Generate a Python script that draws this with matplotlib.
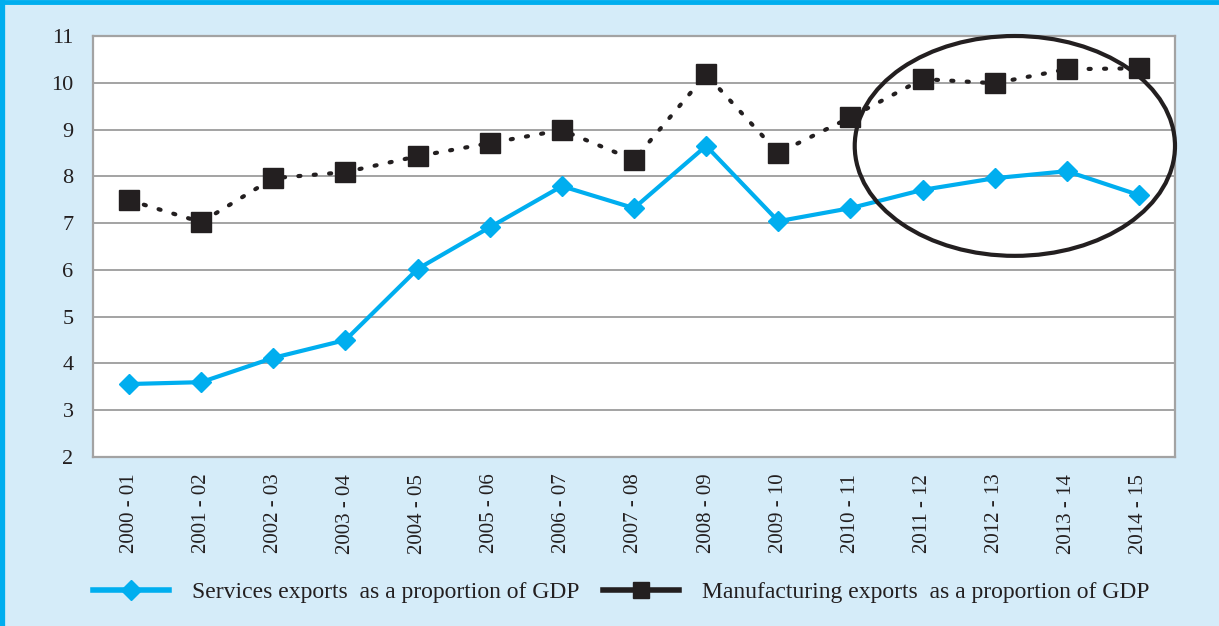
import numpy as np
import matplotlib.pyplot as plt
from matplotlib.patches import Ellipse
from matplotlib.lines import Line2D

# Data
years = ["2000 - 01", "2001 - 02", "2002 - 03", "2003 - 04", "2004 - 05",
         "2005 - 06", "2006 - 07", "2007 - 08", "2008 - 09", "2009 - 10",
         "2010 - 11", "2011 - 12", "2012 - 13", "2013 - 14", "2014 - 15"]
services = [3.56, 3.60, 4.12, 4.50, 6.02, 6.91, 7.79, 7.32, 8.65, 7.04,
            7.32, 7.71, 7.96, 8.11, 7.60]
manufacturing = [7.49, 7.02, 7.96, 8.09, 8.43, 8.71, 8.99, 8.35, 10.18, 8.50,
                 9.26, 10.08, 9.99, 10.29, 10.31]
y_ticks = [2, 3, 4, 5, 6, 7, 8, 9, 10, 11]

bg = "#d5ecf9"
cyan = "#00aeef"
dark = "#231f20"
grey = "#a3a3a3"

plt.rcParams['font.family'] = ['Liberation Serif', 'DejaVu Serif']

fig = plt.figure(figsize=(12.19, 6.26), dpi=100, facecolor=bg)
ax = fig.add_axes([93 / 1219, 1 - 457 / 626, (1175 - 93) / 1219, (457 - 36) / 626])
ax.set_facecolor("white")

x = np.arange(len(years))

# figure border (top and left)
fig.add_artist(Line2D([0, 1], [1 - 2 / 626, 1 - 2 / 626], color=cyan, lw=3.5,
                      transform=fig.transFigure))
fig.add_artist(Line2D([2 / 1219, 2 / 1219], [0, 1], color=cyan, lw=3.8,
                      transform=fig.transFigure))

ax.set_xlim(-0.5, len(years) - 0.5)
ax.set_ylim(2, 11)
ax.set_yticks(y_ticks)
ax.yaxis.grid(True, color=grey, lw=1.4)
ax.set_axisbelow(True)
for s in ax.spines.values():
    s.set_color(grey)
    s.set_linewidth(1.6)

ax.plot(x, manufacturing, color=dark, lw=3, linestyle=(0, (0.5, 3.2)),
        dash_capstyle='round', marker='s', markersize=15, zorder=3,
        label="Manufacturing exports  as a proportion of GDP")
ax.plot(x, services, color=cyan, lw=3, marker='D', markersize=10, zorder=4,
        label="Services exports  as a proportion of GDP")

ax.set_xticks(x)
ax.set_xticklabels(years, rotation=90, fontsize=15, color=dark)
ax.tick_params(axis='y', labelsize=16, labelcolor=dark, length=0, pad=14)
ax.tick_params(axis='x', length=0, pad=12)

# highlight ellipse around the last years
ax.add_patch(Ellipse((12.28, 8.65), 4.44, 4.70, fill=False, ec=dark, lw=3,
                     clip_on=False, zorder=5))

# legend
h_serv = Line2D([], [], color=cyan, lw=4, marker='D', markersize=10)
h_man = Line2D([], [], color=dark, lw=4, marker='s', markersize=11)
fig.legend([h_serv, h_man],
           ["Services exports  as a proportion of GDP",
            "Manufacturing exports  as a proportion of GDP"],
           loc='center left', bbox_to_anchor=(93 / 1219, 1 - 592 / 626),
           ncol=2, frameon=False, fontsize=17, handlelength=3.2,
           handletextpad=1.0, columnspacing=1.0, labelcolor=dark,
           borderpad=0, borderaxespad=0)

fig.savefig("out.png", dpi=100, facecolor=bg)
